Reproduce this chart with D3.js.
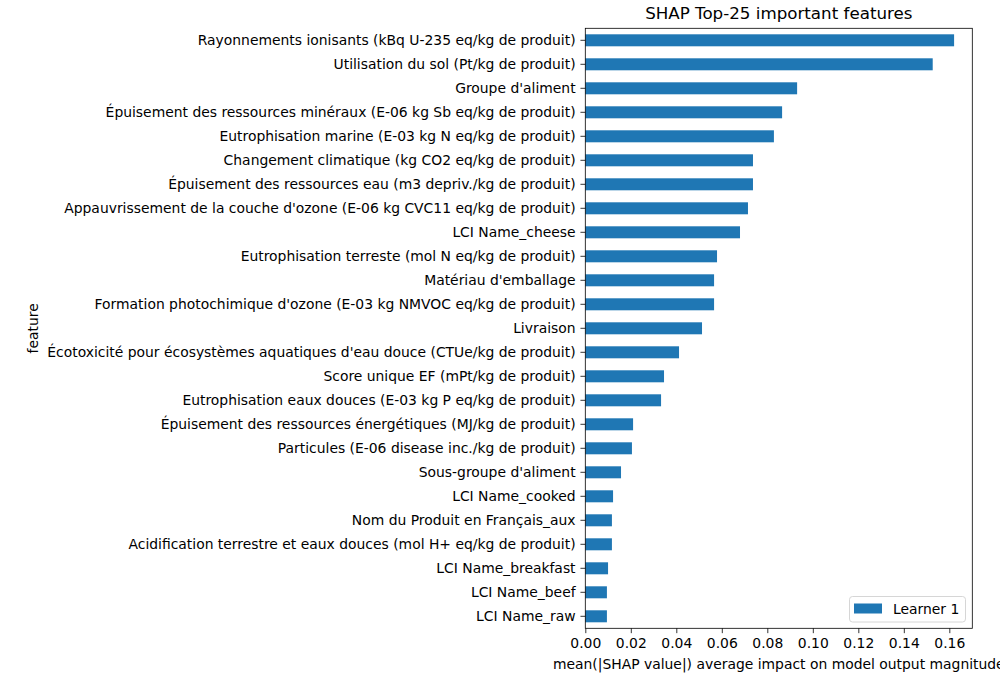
<!DOCTYPE html>
<html><head><meta charset="utf-8">
<script src="https://cdn.jsdelivr.net/npm/d3@7"></script>
<style>body{margin:0;background:#fff}svg{display:block}text{font-family:"DejaVu Sans",sans-serif;fill:#000}</style>
</head><body><svg id="c" width="1000" height="700"></svg>
<script>
const features = [
"Rayonnements ionisants (kBq U-235 eq/kg de produit)",
"Utilisation du sol (Pt/kg de produit)",
"Groupe d'aliment",
"Épuisement des ressources minéraux (E-06 kg Sb eq/kg de produit)",
"Eutrophisation marine (E-03 kg N eq/kg de produit)",
"Changement climatique (kg CO2 eq/kg de produit)",
"Épuisement des ressources eau (m3 depriv./kg de produit)",
"Appauvrissement de la couche d'ozone (E-06 kg CVC11 eq/kg de produit)",
"LCI Name_cheese",
"Eutrophisation terreste (mol N eq/kg de produit)",
"Matériau d'emballage",
"Formation photochimique d'ozone (E-03 kg NMVOC eq/kg de produit)",
"Livraison",
"Écotoxicité pour écosystèmes aquatiques d'eau douce (CTUe/kg de produit)",
"Score unique EF (mPt/kg de produit)",
"Eutrophisation eaux douces (E-03 kg P eq/kg de produit)",
"Épuisement des ressources énergétiques (MJ/kg de produit)",
"Particules (E-06 disease inc./kg de produit)",
"Sous-groupe d'aliment",
"LCI Name_cooked",
"Nom du Produit en Français_aux",
"Acidification terrestre et eaux douces (mol H+ eq/kg de produit)",
"LCI Name_breakfast",
"LCI Name_beef",
"LCI Name_raw"];
const values = [0.1621,0.1527,0.0931,0.0865,0.0829,0.0737,0.0737,0.0715,0.0680,0.0579,0.0566,0.0566,0.0513,0.0412,0.0346,0.0333,0.0210,0.0205,0.0157,0.0122,0.0117,0.0117,0.0100,0.0095,0.0095];
const xTicks = [0,0.02,0.04,0.06,0.08,0.10,0.12,0.14,0.16];
const seriesName = "Learner 1";
const titleText = "SHAP Top-25 important features";
const xLabel = "mean(|SHAP value|) average impact on model output magnitude";
const yLabel = "feature";

const L=585.3, R=972.3, T=28.3, B=628.3;
const color="#1f77b4";
const svg=d3.select("#c");
const x=d3.scaleLinear().domain([0,0.1701]).range([L,R]);
const y=d3.scaleBand().domain(features).range([T,B]).paddingInner(0.5).paddingOuter(0.25);

svg.append("g").selectAll("rect").data(features).join("rect")
 .attr("x",x(0)).attr("y",d=>y(d)).attr("height",y.bandwidth())
 .attr("width",(d,i)=>x(values[i])-x(0)).attr("fill",color);

const xa=svg.append("g").attr("transform",`translate(0,${B})`)
 .call(d3.axisBottom(x).tickValues(xTicks).tickFormat(d3.format(".2f")).tickSize(4.86).tickPadding(4.86));
xa.select(".domain").remove();
xa.selectAll("text").style("font-size","13.9px").attr("dy","0.71em");
xa.selectAll("line").attr("stroke","#000").attr("stroke-width",0.8);

const ya=svg.append("g").attr("transform",`translate(${L},0)`)
 .call(d3.axisLeft(y).tickSize(4.86).tickPadding(4.86));
ya.select(".domain").remove();
ya.selectAll("text").style("font-size","13.9px");
ya.selectAll("line").attr("stroke","#000").attr("stroke-width",0.8);

svg.append("rect").attr("x",L).attr("y",T).attr("width",R-L).attr("height",B-T)
 .attr("fill","none").attr("stroke","#000").attr("stroke-width",0.8);

svg.append("text").attr("x",(L+R)/2).attr("y",19).attr("text-anchor","middle")
 .style("font-size","16.7px").text(titleText);
svg.append("text").attr("x",(L+R)/2).attr("y",669).attr("text-anchor","middle")
 .style("font-size","13.9px").text(xLabel);
svg.append("text").attr("transform","translate(38,328.3) rotate(-90)").attr("text-anchor","middle")
 .style("font-size","13.9px").text(yLabel);

const lg=svg.append("g");
lg.append("rect").attr("x",849.5).attr("y",596.5).attr("width",116).attr("height",25.5).attr("rx",3)
 .attr("fill","#fff").attr("fill-opacity",0.8).attr("stroke","#ccc").attr("stroke-width",0.8);
lg.append("rect").attr("x",854).attr("y",603.5).attr("width",28).attr("height",10).attr("fill",color);
lg.append("text").attr("x",893).attr("y",613.5).style("font-size","13.9px").text(seriesName);
</script></body></html>
